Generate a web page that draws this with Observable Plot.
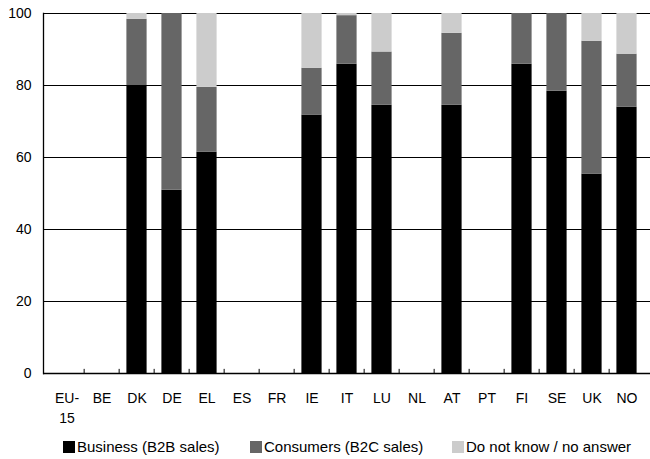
<!DOCTYPE html>
<html>
<head>
<meta charset="utf-8">
<script src="https://cdn.jsdelivr.net/npm/d3@7"></script>
<script src="https://cdn.jsdelivr.net/npm/@observablehq/plot@0.6"></script>
<style>
  html, body { margin: 0; padding: 0; background: #fff; }
  body { width: 650px; height: 459px; overflow: hidden; font-family: "Liberation Sans", Arial, sans-serif; }
  #legend { position: relative; height: 29px; font-size: 15px; color: #000; }
  .item { position: absolute; top: 8px; display: flex; align-items: center; white-space: nowrap; }
  .sw { width: 12px; height: 12px; margin-right: 2px; }
</style>
</head>
<body>
<div id="chart"></div>
<div id="legend"></div>
<script>
const categories = ["EU-15","BE","DK","DE","EL","ES","FR","IE","IT","LU","NL","AT","PT","FI","SE","UK","NO"];
const business  = [null,null,80.0,50.9,61.5,null,null,71.8,85.9,74.5,null,74.5,null,85.9,78.4,55.4,74.0];
const consumers = [null,null,18.4,49.1,18.0,null,null,13.0,13.5,14.8,null,20.0,null,14.1,21.6,36.9,14.7];
const dontKnow  = [null,null,1.6,0,20.5,null,null,15.2,0.6,10.7,null,5.5,null,0,0,7.7,11.3];
const seriesNames = ["Business (B2B sales)","Consumers (B2C sales)","Do not know / no answer"];
const seriesColors = ["#000000","#666666","#cccccc"];
const yTicks = [0,20,40,60,80,100];

const seriesValues = [business, consumers, dontKnow];
const rows = [];
categories.forEach((c, i) => {
  seriesValues.forEach((vals, s) => {
    if (vals[i] != null && vals[i] > 0) rows.push({cat: c, series: seriesNames[s], value: vals[i]});
  });
});

const W = 650, H = 430, mL = 43, mR = 0, mT = 13, mB = 57;
const bw = (W - mL - mR) / categories.length;

const chart = Plot.plot({
  width: W, height: H,
  marginLeft: mL, marginRight: mR, marginTop: mT, marginBottom: mB,
  style: {fontFamily: "'Liberation Sans', Arial, sans-serif", fontSize: "14px", color: "#000", background: "#fff"},
  x: {domain: categories, padding: 0, label: null},
  y: {domain: [0, 100], label: null},
  color: {domain: seriesNames, range: seriesColors},
  marks: [
    Plot.gridY(yTicks, {stroke: "#000", strokeOpacity: 1, strokeWidth: 1}),
    Plot.barY(rows, {x: "cat", y: "value", fill: "series", order: seriesNames, insetLeft: 7.4, insetRight: 7.4}),
    Plot.ruleX(categories.slice(1), {x: d => d, y1: 0, y2: 1.15, dx: -bw / 2, stroke: "#000"}),
    Plot.ruleY([0], {stroke: "#000", strokeWidth: 1.3}),
    Plot.frame({anchor: "left", stroke: "#000", strokeWidth: 1.3}),
    Plot.axisY({ticks: yTicks, tickSize: 0, tickPadding: 12, label: null, fontSize: 14}),
    Plot.axisX({tickSize: 0, tickPadding: 15, label: null, fontSize: 14, lineHeight: 1.45,
      tickFormat: d => d === "EU-15" ? "EU-\n15" : d})
  ]
});
document.getElementById("chart").appendChild(chart);

const legend = document.getElementById("legend");
const lefts = [63, 250, 452];
seriesNames.forEach((name, i) => {
  const item = document.createElement("div");
  item.className = "item";
  item.style.left = lefts[i] + "px";
  const sw = document.createElement("div");
  sw.className = "sw";
  sw.style.background = seriesColors[i];
  const t = document.createElement("span");
  t.textContent = name;
  item.appendChild(sw);
  item.appendChild(t);
  legend.appendChild(item);
});
</script>
</body>
</html>
